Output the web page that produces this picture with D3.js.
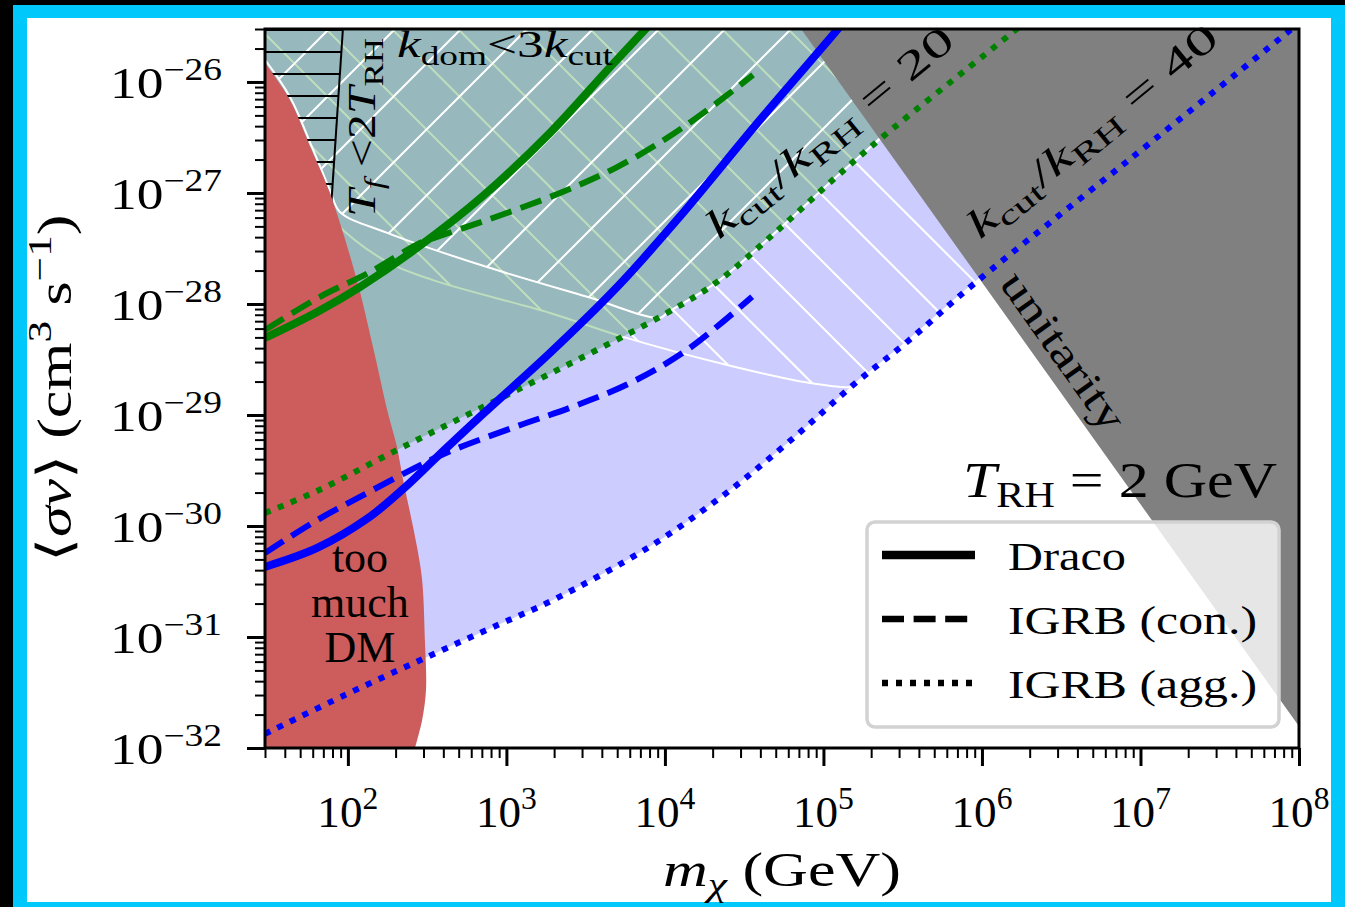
<!DOCTYPE html>
<html>
<head>
<meta charset="utf-8">
<script src="https://cdn.jsdelivr.net/npm/d3@7"></script>
<style>
  html, body { margin: 0; padding: 0; background: #ffffff; }
  svg { display: block; }
  text { font-family: "Liberation Serif", "Times New Roman", serif; fill: #000; }
</style>
</head>
<body>
<svg id="chart" width="1345" height="907"></svg>
<script>
// ---- axis ticks ----
const massTicks = [1e2, 1e3, 1e4, 1e5, 1e6, 1e7, 1e8];
const massTickExponents = ["2", "3", "4", "5", "6", "7", "8"];
const sigmaTicks = [1e-32, 1e-31, 1e-30, 1e-29, 1e-28, 1e-27, 1e-26];
const sigmaTickExponents = ["\u221232", "\u221231", "\u221230", "\u221229", "\u221228", "\u221227", "\u221226"];

// ---- excluded: too much dark matter (boundary, top to bottom) ----
const tooMuchDMMass  = [30, 43, 59, 77, 114, 144, 179, 204, 223, 247, 273, 294, 306, 311, 294, 265];
const tooMuchDMSigma = [1.48e-26, 6.9e-27, 2.44e-27, 1.0e-27, 1.64e-28, 4.10e-29, 1.04e-29, 5.15e-30, 2.59e-30, 1.31e-30, 6.47e-31, 3.27e-31, 9.4e-32, 3.33e-32, 1.79e-32, 1.0e-32];

// ---- T_f < 2 T_RH edge ----
const freezeOutMass  = [93, 78];
const freezeOutSigma = [3.0e-26, 6.75e-28];

// ---- unitarity bound ----
const unitarityMass  = [7.23e4, 1e5, 1e6, 1e7, 1e8];
const unitaritySigma = [3.0e-26, 1.57e-26, 1.57e-28, 1.57e-30, 1.57e-32];

// ---- k_dom < 3 k_cut edges ----
const kdom20Mass  = [30, 43.1, 59.4, 77.1, 89.1, 177, 755, 3228, 9311];
const kdom20Sigma = [1.58e-26, 7.33e-27, 2.59e-27, 1.06e-27, 6.75e-28, 4.37e-28, 2.15e-28, 1.16e-28, 7.48e-29];
const kdom40Mass  = [30, 80.5, 177, 344, 1884, 5445, 24660, 82270, 147200];
const kdom40Sigma = [3.0e-27, 5.6e-28, 2.39e-28, 1.64e-28, 8.30e-29, 5.05e-29, 2.82e-29, 1.94e-29, 1.79e-29];

// ---- k_cut / k_RH = 20 (green) ----
const draco20Mass  = [30, 64, 119, 273, 711, 1884, 4508, 8531];
const draco20Sigma = [4.94e-29, 8.47e-29, 1.42e-28, 3.20e-28, 9.4e-28, 3.48e-27, 1.36e-26, 3.62e-26];
const igrbCon20Mass  = [30, 66.7, 138, 285, 365, 755, 2178, 4993, 10300, 19280, 35970];
const igrbCon20Sigma = [5.83e-29, 1.16e-28, 1.94e-28, 3.55e-28, 4.02e-28, 5.71e-28, 1.0e-27, 1.71e-27, 3.13e-27, 5.83e-27, 1.16e-26];
const igrbAgg20Mass  = [30, 64, 204, 711, 3043, 10300, 21330, 50930, 120100, 227500, 1.57e6, 2.01e6];
const igrbAgg20Sigma = [1.31e-30, 2.07e-30, 4.84e-30, 1.18e-29, 3.33e-29, 8.30e-29, 1.58e-28, 4.55e-28, 1.39e-27, 3.06e-27, 2.82e-26, 3.78e-26];

// ---- k_cut / k_RH = 40 (blue) ----
const draco40Mass  = [30, 64, 132, 223, 365, 711, 1884, 4993, 11910, 39810, 121900, 147200];
const draco40Sigma = [4.28e-31, 6.34e-31, 1.16e-30, 2.15e-30, 4.19e-30, 1.02e-29, 3.62e-29, 1.42e-28, 5.71e-28, 4.55e-27, 2.94e-26, 4.10e-26];
const igrbCon40Mass  = [30, 64, 132, 250, 416, 1132, 2594, 6026, 13770, 35480];
const igrbCon40Sigma = [5.71e-31, 1.13e-30, 1.98e-30, 3.20e-30, 4.55e-30, 7.80e-30, 1.18e-29, 1.94e-29, 3.85e-29, 1.16e-28];
const igrbAgg40Mass  = [30, 95.9, 306, 912, 1968, 7943, 23930, 68080, 153800, 336500, 905700, 8.59e6, 8.53e7, 1e8];
const igrbAgg40Sigma = [1.34e-32, 3.0e-32, 6.47e-32, 1.31e-31, 2.15e-31, 6.47e-31, 1.94e-30, 6.61e-30, 1.86e-29, 4.55e-29, 1.55e-28, 2.02e-27, 2.82e-26, 3.40e-26];

const legendLabels = ["Draco", "IGRB (con.)", "IGRB (agg.)"];

// ---------------------------------------------------------------
const zip = (a, b) => a.map((v, i) => [v, b[i]]);
const svg = d3.select("#chart");

// page frame
svg.append("rect").attr("width", 1345).attr("height", 907).attr("fill", "#00c8fb");
svg.append("rect").attr("width", 13).attr("height", 907).attr("fill", "#000");
svg.append("rect").attr("width", 1345).attr("height", 5).attr("fill", "#000");
svg.append("rect").attr("x", 27).attr("y", 18).attr("width", 1304).attr("height", 884).attr("fill", "#fff");

const x = d3.scaleLog().domain([30, 1e8]).range([265, 1299]);
const y = d3.scaleLog().domain([1e-32, 3e-26]).range([748, 29]);
const [x0, x1] = x.range();
const [y0, y1] = y.range();

const defs = svg.append("defs");
defs.append("clipPath").attr("id", "plot-clip")
  .append("rect").attr("x", x0).attr("y", y1).attr("width", x1 - x0).attr("height", y0 - y1);

// hatch patterns (absolute user space so the lines line up across regions)
const pSlash = defs.append("pattern").attr("id", "hatch-slash")
  .attr("patternUnits", "userSpaceOnUse").attr("width", 66).attr("height", 66);
pSlash.append("path").attr("d", "M-5,33L33,-5M-5,99L99,-5")
  .attr("stroke", "#fff").attr("stroke-width", 2);
const pBack = defs.append("pattern").attr("id", "hatch-back")
  .attr("patternUnits", "userSpaceOnUse").attr("width", 66).attr("height", 66);
pBack.append("path").attr("d", "M-5,28L71,104M-5,-38L71,38")
  .attr("stroke", "#fff").attr("stroke-width", 2);
const pHoriz = defs.append("pattern").attr("id", "hatch-horiz")
  .attr("patternUnits", "userSpaceOnUse").attr("width", 66).attr("height", 22);
pHoriz.append("path").attr("d", "M-2,8H68")
  .attr("stroke", "#000").attr("stroke-width", 2);

const smooth = d3.line().x(d => x(d[0])).y(d => y(d[1])).curve(d3.curveCatmullRom.alpha(0.5));
const straight = d3.line().x(d => x(d[0])).y(d => y(d[1]));
// close a boundary curve through the top corners of the plot
const closeTop = pts => smooth(pts) + `L${x1},${y1}L${x0},${y1}Z`;

const plot = svg.append("g").attr("clip-path", "url(#plot-clip)");

const agg20 = zip(igrbAgg20Mass, igrbAgg20Sigma);
const agg40 = zip(igrbAgg40Mass, igrbAgg40Sigma);
const kdom20 = zip(kdom20Mass, kdom20Sigma);
const kdom40 = zip(kdom40Mass, kdom40Sigma);

// k_cut/k_RH = 40 allowed band
plot.append("path").attr("d", closeTop(agg40)).attr("fill", "#0000ff").attr("fill-opacity", 0.2);

// k_dom < 3 k_cut (40), back-slash hatch
const back = kdom40.concat(agg40.filter(d => d[0] > kdom40Mass[kdom40Mass.length - 1]));
plot.append("path").attr("d", closeTop(back)).attr("fill", "url(#hatch-back)")
  .attr("stroke", "#fff").attr("stroke-width", 2);

// k_cut/k_RH = 20 band
plot.append("path").attr("d", closeTop(agg20)).attr("fill", "#008000").attr("fill-opacity", 0.26);

// k_dom < 3 k_cut (20), slash hatch
const slash = kdom20.concat(agg20.filter(d => d[0] > kdom20Mass[kdom20Mass.length - 1]));
plot.append("path").attr("d", closeTop(slash)).attr("fill", "url(#hatch-slash)")
  .attr("stroke", "#fff").attr("stroke-width", 2);

// T_f < 2 T_RH
const fo = zip(freezeOutMass, freezeOutSigma);
plot.append("path")
  .attr("d", `M${x0},${y(fo[0][1])}` + straight(fo).replace("M", "L") + `L${x0},${y(fo[1][1])}Z`)
  .attr("fill", "url(#hatch-horiz)");
plot.append("path").attr("d", straight(fo)).attr("fill", "none").attr("stroke", "#000").attr("stroke-width", 2);

// too much DM
const dm = zip(tooMuchDMMass, tooMuchDMSigma);
plot.append("path").attr("d", smooth(dm) + `L${x0},${y0}Z`).attr("fill", "#cd5c5c");

// unitarity
const uni = zip(unitarityMass, unitaritySigma);
plot.append("path").attr("d", straight(uni) + `L${x1},${y1}Z`).attr("fill", "#808080");

// limit curves
const curves = [
  { m: igrbAgg20Mass, s: igrbAgg20Sigma, c: "#008000", w: 6, dash: "6 8" },
  { m: igrbAgg40Mass, s: igrbAgg40Sigma, c: "#0000ff", w: 6, dash: "6 8" },
  { m: igrbCon20Mass, s: igrbCon20Sigma, c: "#008000", w: 6, dash: "22 9.6" },
  { m: igrbCon40Mass, s: igrbCon40Sigma, c: "#0000ff", w: 6, dash: "22 9.6" },
  { m: draco20Mass, s: draco20Sigma, c: "#008000", w: 8, dash: null },
  { m: draco40Mass, s: draco40Sigma, c: "#0000ff", w: 8, dash: null }
];
curves.forEach(k => {
  plot.append("path").attr("d", smooth(zip(k.m, k.s)))
    .attr("fill", "none").attr("stroke", k.c).attr("stroke-width", k.w)
    .attr("stroke-dasharray", k.dash).attr("stroke-linecap", "butt");
});

// ---- rich text helper (sub/superscripts, italics) ----
function rich(parent, o) {
  const t = parent.append("text").attr("x", o.x).attr("y", o.y)
    .attr("font-size", o.size).attr("text-anchor", o.anchor || "start");
  if (o.rotate) t.attr("transform", `rotate(${o.rotate},${o.x},${o.y})`);
  let shift = 0;
  o.parts.forEach(p => {
    const s = p.sub ? 0.2 * o.size : p.sup ? -0.41 * o.size : 0;
    const ts = t.append("tspan").text(p.t).attr("dy", s - shift);
    shift = s;
    if (p.sub || p.sup) ts.attr("font-size", 0.7 * o.size);
    if (p.i) ts.attr("font-style", "italic");
  });
  if (o.length) t.attr("textLength", o.length).attr("lengthAdjust", "spacingAndGlyphs");
  return t;
}

// ---- axes ----
const minorX = x.ticks().filter(v => !massTicks.some(t => Math.abs(t - v) / t < 1e-9));
const minorY = y.ticks().filter(v => !sigmaTicks.some(t => Math.abs(t - v) / t < 1e-9));

function styleAxis(g, w) {
  g.select(".domain").remove();
  g.selectAll(".tick line").attr("stroke", "#000").attr("stroke-width", w);
  g.selectAll(".tick text").remove();
}
svg.append("g").attr("transform", `translate(0,${y0})`)
  .call(d3.axisBottom(x).tickValues(minorX).tickSize(10).tickFormat(""))
  .call(g => styleAxis(g, 2));
svg.append("g").attr("transform", `translate(0,${y0})`)
  .call(d3.axisBottom(x).tickValues(massTicks).tickSize(18).tickFormat(""))
  .call(g => styleAxis(g, 3));
svg.append("g").attr("transform", `translate(${x0},0)`)
  .call(d3.axisLeft(y).tickValues(minorY).tickSize(10).tickFormat(""))
  .call(g => styleAxis(g, 2));
svg.append("g").attr("transform", `translate(${x0},0)`)
  .call(d3.axisLeft(y).tickValues(sigmaTicks).tickSize(18).tickFormat(""))
  .call(g => styleAxis(g, 3));

// frame
svg.append("rect").attr("x", x0).attr("y", y1).attr("width", x1 - x0).attr("height", y0 - y1)
  .attr("fill", "none").attr("stroke", "#000").attr("stroke-width", 3);

// tick labels
massTicks.forEach((v, i) => rich(svg, {
  x: x(v), y: y0 + 79, size: 44, anchor: "middle", length: 61,
  parts: [{ t: "10" }, { t: massTickExponents[i], sup: true }]
}));
sigmaTicks.forEach((v, i) => rich(svg, {
  x: 222, y: y(v) + 16, size: 44, anchor: "end", length: 112,
  parts: [{ t: "10" }, { t: sigmaTickExponents[i], sup: true }]
}));

// axis titles
rich(svg, { x: (x0 + x1) / 2, y: 886, size: 48, anchor: "middle", length: 238,
  parts: [{ t: "m", i: true }, { t: "\u03c7", i: true, sub: true }, { t: " (GeV)" }] });
rich(svg, { x: 71, y: 388, size: 48, anchor: "middle", rotate: -90, length: 347,
  parts: [{ t: "\u27e8" }, { t: "\u03c3v", i: true }, { t: "\u27e9 (cm" }, { t: "3", sup: true },
          { t: " s" }, { t: "\u22121", sup: true }, { t: ")" }] });

// region labels
rich(svg, { x: 375, y: 217, size: 40, rotate: -90, length: 179,
  parts: [{ t: "T", i: true }, { t: "f", i: true, sub: true }, { t: " <2" }, { t: "T", i: true }, { t: "RH", sub: true }] });
rich(svg, { x: 397, y: 57, size: 38, length: 216,
  parts: [{ t: "k", i: true }, { t: "dom", sub: true }, { t: "<3" }, { t: "k", i: true }, { t: "cut", sub: true }] });
rich(svg, { x: 719, y: 240, size: 40, rotate: -39.4, length: 308,
  parts: [{ t: "k", i: true }, { t: "cut", sub: true }, { t: "/" }, { t: "k", i: true }, { t: "RH", sub: true }, { t: " = 20" }] });
rich(svg, { x: 980, y: 240, size: 40, rotate: -39.4, length: 312,
  parts: [{ t: "k", i: true }, { t: "cut", sub: true }, { t: "/" }, { t: "k", i: true }, { t: "RH", sub: true }, { t: " = 40" }] });
rich(svg, { x: 1052, y: 359, size: 42, anchor: "middle", rotate: 54.6, length: 185,
  parts: [{ t: "unitarity" }] });
["too", "much", "DM"].forEach((w, i) => rich(svg, {
  x: 360, y: 572 + i * 45, size: 44, anchor: "middle", parts: [{ t: w }]
}));
rich(svg, { x: 963, y: 497, size: 50, length: 314,
  parts: [{ t: "T", i: true }, { t: "RH", sub: true }, { t: " = 2 GeV" }] });

// legend
const lg = svg.append("g");
lg.append("rect").attr("x", 867).attr("y", 522).attr("width", 412).attr("height", 205).attr("rx", 8)
  .attr("fill", "#fff").attr("fill-opacity", 0.8).attr("stroke", "#d2d2d2").attr("stroke-width", 3.5);
const legendStyles = [{ w: 8.5, dash: null }, { w: 6.5, dash: "22 9.6" }, { w: 6.5, dash: "6 8" }];
const legendWidths = [118, 249, 249];
legendLabels.forEach((lab, i) => {
  const ly = 555 + i * 64;
  lg.append("line").attr("x1", 882).attr("x2", 975).attr("y1", ly).attr("y2", ly)
    .attr("stroke", "#000").attr("stroke-width", legendStyles[i].w)
    .attr("stroke-dasharray", legendStyles[i].dash);
  rich(lg, { x: 1008, y: ly + 15, size: 41, length: legendWidths[i], parts: [{ t: lab }] });
});
</script>
</body>
</html>
